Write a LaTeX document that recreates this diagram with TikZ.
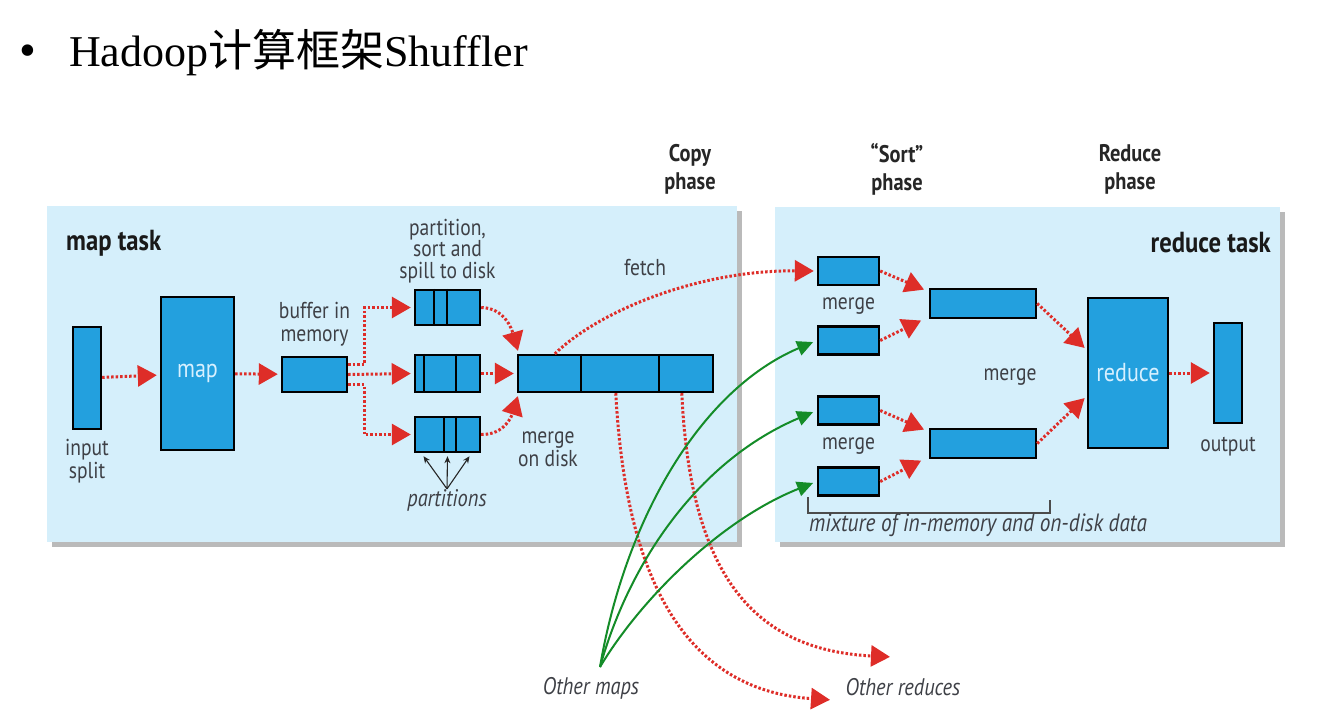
\documentclass[tikz,border=0pt]{standalone}
\usepackage{fontspec}
\setmainfont{Liberation Serif}
\newfontfamily\cjkfont{Noto Sans CJK SC}
\newfontfamily\diagfont[FakeStretch=0.85]{PT Sans}
\definecolor{panelBlue}{RGB}{213,239,251}
\definecolor{boxBlue}{RGB}{35,160,222}
\definecolor{dotRed}{RGB}{222,45,40}
\definecolor{mapGreen}{RGB}{20,140,40}
\definecolor{labelGray}{RGB}{62,64,70}
\definecolor{inText}{RGB}{215,240,255}
\usetikzlibrary{arrows.meta, positioning, calc, shadows}

\begin{document}
\begin{tikzpicture}[
  x=1pt, y=-1pt,
  panel/.style={rectangle, fill=panelBlue, inner sep=0pt, anchor=north west,
                drop shadow={shadow xshift=5pt, shadow yshift=-5pt, fill=black!45, opacity=.6}},
  blk/.style={rectangle, draw=black, line width=2.4pt, fill=boxBlue, inner sep=0pt},
  lbl/.style={font=\diagfont\fontsize{23}{23}\selectfont, text=labelGray, align=center, inner sep=0pt},
  ilbl/.style={font=\diagfont\itshape\fontsize{24}{24}\selectfont, text=labelGray, align=center, inner sep=0pt},
  phase/.style={font=\diagfont\bfseries\fontsize{24}{28}\selectfont, text=black!85, align=center, inner sep=0pt},
  tasklbl/.style={font=\diagfont\bfseries\fontsize{29}{29}\selectfont, text=black!90, inner sep=0pt},
  dotarrow/.style={draw=dotRed, line width=3pt, dash pattern=on 2.5pt off 2pt,
                   -{Triangle[length=19pt,width=21pt]}, shorten >=3pt},
  grarrow/.style={draw=mapGreen, line width=2pt, -{Triangle[length=16pt,width=15pt]}, shorten >=4pt},
  ptr/.style={-{Stealth[length=7pt,width=6pt]}, line width=1.1pt, black!85},
  sep/.style={line width=2.4pt, black}
]
\useasboundingbox[fill=white] (0,0) rectangle (1319,718);

% title
\node[anchor=base, inner sep=0pt, font=\fontsize{48}{48}\selectfont] (bullet) at (28,66) {•};
\node[anchor=base west, inner sep=0pt, font=\fontsize{44}{46}\selectfont] (title) at (69,66)
  {Hadoop{\cjkfont 计算框架}Shuffler};

% the two task panels
\node[panel, minimum width=690pt, minimum height=336pt] (mappanel) at (47,206) {};
\node[panel, minimum width=505pt, minimum height=335pt] (redpanel) at (775,207) {};
\node[tasklbl, anchor=west] (maptask) at (66,243) {map task};
\node[tasklbl, anchor=east] (redtask) at (1271,243) {reduce task};

% phases
\node[phase] (copyph) at (690,169) {Copy\\phase};
\node[phase] (sortph) at (897,169) {“Sort”\\phase};
\node[phase] (reduceph) at (1130,169) {Reduce\\phase};

% map side
\node[blk, minimum width=28pt, minimum height=102pt] (insplit) at (87,378) {};
\node[blk, minimum width=73pt, minimum height=153pt, text=inText,
      font=\diagfont\fontsize{26}{26}\selectfont] (mapbox) at (197.5,373.5) {map};
\node[blk, minimum width=65pt, minimum height=35pt] (buf) at (314.5,374.5) {};
\node[blk, minimum width=65pt, minimum height=35pt] (p1) at (447.5,307.5) {};
\node[blk, minimum width=65pt, minimum height=37pt] (p2) at (447.5,373.5) {};
\node[blk, minimum width=65pt, minimum height=35pt] (p3) at (447.5,434.5) {};
\node[blk, minimum width=195pt, minimum height=37pt] (mdisk) at (615.5,373.5) {};
\foreach \n/\d in {p1/20,p1/33,p2/10,p2/42,p3/30,p3/42,mdisk/64,mdisk/142}
  \draw[sep] ($(\n.north west)+(\d,0)$) -- ($(\n.south west)+(\d,0)$);

\node[lbl, below=9pt of insplit] (insplitlbl) {input\\split};
\node[lbl, above=9pt of buf] (buflbl) {buffer in\\memory};
\node[lbl, above=6pt of p1, font=\diagfont\fontsize{23}{21.5}\selectfont] (spilllbl)
  {partition,\\sort and\\spill to disk};
\node[lbl] (mdisklbl) at (548,449) {merge\\on disk};
\node[lbl] (fetchlbl) at (645,268) {fetch};
\node[ilbl] (partlbl) at (447,500) {partitions};

% reduce side
\node[blk, minimum width=61pt, minimum height=28pt] (r1) at (848.5,271) {};
\node[blk, minimum width=61pt, minimum height=28pt] (r2) at (848.5,340.5) {};
\node[blk, minimum width=61pt, minimum height=28pt] (r3) at (848.5,410.5) {};
\node[blk, minimum width=61pt, minimum height=28pt] (r4) at (848.5,481.5) {};
\node[blk, minimum width=106pt, minimum height=29pt] (m1) at (983,303.5) {};
\node[blk, minimum width=106pt, minimum height=29pt] (m2) at (983,443.5) {};
\node[blk, minimum width=80pt, minimum height=150pt, text=inText,
      font=\diagfont\fontsize{26}{26}\selectfont] (redbox) at (1128,373) {reduce};
\node[blk, minimum width=28pt, minimum height=100pt] (outbox) at (1228,373) {};

\node[lbl] (mergeA) at ($(r1)!0.5!(r2)$) {merge};
\node[lbl] (mergeB) at ($(r3)!0.5!(r4)$) {merge};
\node[lbl] (mergeC) at (1010,377) {merge};
\node[lbl] (outlbl) at (1228,447) {output};
\draw[line width=1.2pt, black!70] (808,497) -- (808,513) -- (1050,513) -- (1050,500);
\node[ilbl, font=\diagfont\itshape\fontsize{25}{25}\selectfont] (mixlbl) at (978,525)
  {mixture of in-memory and on-disk data};

% outside
\node[ilbl] (omaps) at (591,688) {Other maps};
\node[ilbl] (oreds) at (903,687) {Other reduces};
\coordinate (omapsTop) at (600,667);
\coordinate (oredA) at (833,700);
\coordinate (oredB) at (893,657);

% map side arrows
\draw[dotarrow] (insplit) -- (mapbox);
\draw[dotarrow] (mapbox) -- (buf);
\draw[dotarrow] ($(buf.east)+(0,-10)$) -- ++(16,0) |- (p1.west);
\draw[dotarrow] (buf.east) -- (p2.west);
\draw[dotarrow] ($(buf.east)+(0,10)$) -- ++(16,0) |- (p3.west);
\draw[dotarrow] (p1.east) .. controls (505,308) and (512,330) .. ($(mdisk.north west)+(2,0)$);
\draw[dotarrow] (p2.east) -- (mdisk.west);
\draw[dotarrow] (p3.east) .. controls (505,435) and (512,415) .. ($(mdisk.south west)+(2,0)$);
\foreach \d in {-24,0,22}
  \draw[ptr] (partlbl.north) -- ($(p3.south)+(\d,3)$);

% copy phase
\draw[dotarrow] ($(mdisk.north west)+(38,0)$) .. controls (600,310) and (700,270) .. (r1.west);
\draw[dotarrow] ($(mdisk.south west)+(99,0)$) .. controls (625,570) and (680,690) .. (oredA);
\draw[dotarrow] ($(mdisk.south west)+(165,0)$) .. controls (690,570) and (750,650) .. (oredB);
\draw[grarrow] (omapsTop) .. controls (625,520) and (700,390) .. (r2.west);
\draw[grarrow] (omapsTop) .. controls (630,560) and (700,460) .. (r3.west);
\draw[grarrow] (omapsTop) .. controls (640,600) and (720,520) .. (r4.west);

% sort and reduce phase
\draw[dotarrow] (r1.east) -- ($(m1.north west)+(-2,3)$);
\draw[dotarrow] (r2.east) -- ($(m1.south west)+(-5,0)$);
\draw[dotarrow] (r3.east) -- ($(m2.north west)+(-2,3)$);
\draw[dotarrow] (r4.east) -- ($(m2.south west)+(-5,0)$);
\draw[dotarrow] (m1.east) -- ($(redbox.west)+(0,-23)$);
\draw[dotarrow] (m2.east) -- ($(redbox.west)+(0,23)$);
\draw[dotarrow] (redbox) -- (outbox);

\end{tikzpicture}
\end{document}
